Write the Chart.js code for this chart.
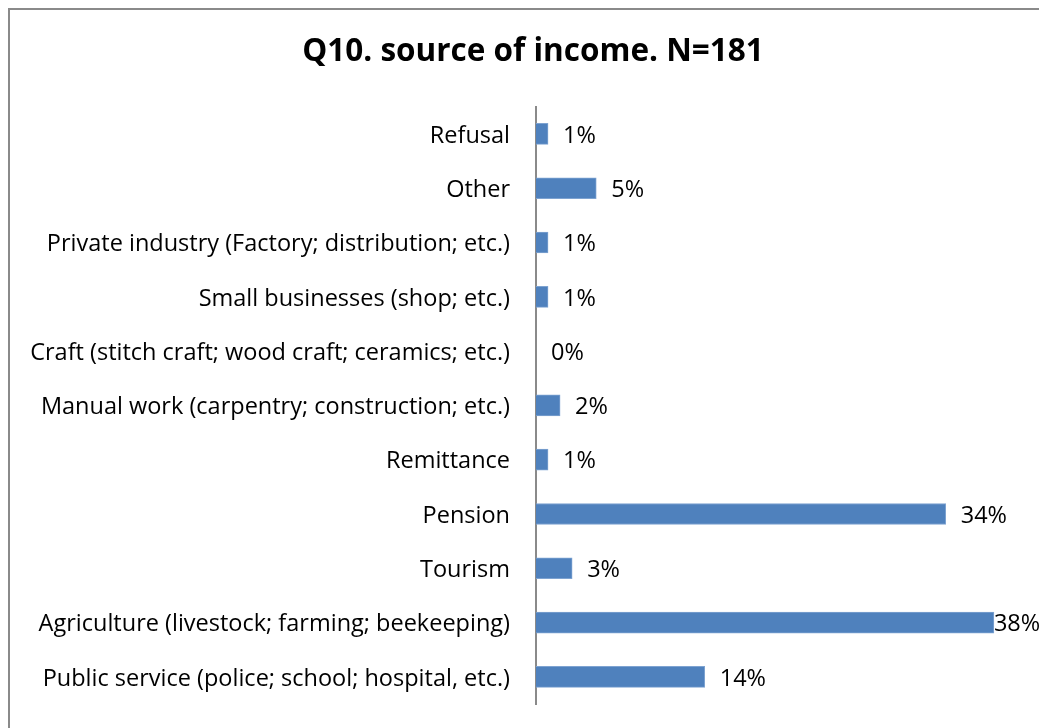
<!DOCTYPE html>
<html>
<head>
<meta charset="utf-8">
<script src="https://cdn.jsdelivr.net/npm/chart.js@4/dist/chart.umd.min.js"></script>
<style>
  html, body { margin: 0; padding: 0; background: #fff; overflow: hidden; }
  #wrap { position: relative; width: 1039px; height: 728px; }
  #frame { position: absolute; left: 8px; top: 8px; width: 1100px; height: 800px; border: 2px solid #8a8a8a; box-sizing: border-box; }
  canvas { position: absolute; left: 0; top: 0; }
</style>
</head>
<body>
<div id="wrap">
  <div id="frame"></div>
  <canvas id="income" width="1039" height="728"></canvas>
</div>
<script>
const categories = [
    "Refusal",
    "Other",
    "Private industry (Factory; distribution; etc.)",
    "Small businesses (shop; etc.)",
    "Craft (stitch craft; wood craft; ceramics; etc.)",
    "Manual work (carpentry; construction; etc.)",
    "Remittance",
    "Pension",
    "Tourism",
    "Agriculture (livestock; farming; beekeeping)",
    "Public service (police; school; hospital, etc.)"
]
const shares = [1, 5, 1, 1, 0, 2, 1, 34, 3, 38, 14]

const labelFont = { family: "'Open Sans', sans-serif", size: 23.5 }

// value labels to the right of each bar, kept inside the canvas
const valueLabels = {
    id: "valueLabels",
    afterLayout(chart) {
        // centre the title over the framed area rather than the canvas
        chart.titleBlock.left = 48
    },
    afterDatasetsDraw(chart) {
        const ctx = chart.ctx
        const meta = chart.getDatasetMeta(0)
        ctx.save()
        ctx.font = labelFont.size + "px " + labelFont.family
        ctx.fillStyle = "#000"
        ctx.textBaseline = "middle"
        meta.data.forEach((bar, i) => {
            const txt = shares[i] + "%"
            const w = ctx.measureText(txt).width
            let x = bar.x + 15
            if (x + w > chart.width - 2) x = Math.max(bar.x, chart.width - 2 - w)
            ctx.fillText(txt, x, bar.y + 2)
        })
        ctx.restore()
    }
}

const ctx = document.getElementById("income").getContext("2d")
new Chart(ctx, {
    type: "bar",
    data: {
        labels: categories,
        datasets: [
            {
                data: shares,
                backgroundColor: "#4f81bd",
                borderColor: "#7ea3d1",
                borderWidth: 1,
                barThickness: 21
            }
        ]
    },
    options: {
        indexAxis: "y",
        responsive: false,
        animation: false,
        layout: { padding: { left: 0, right: 21, bottom: 24 } },
        scales: {
            x: {
                display: false,
                min: 0,
                max: 40
            },
            y: {
                afterFit: scale => {
                    scale.width = 536
                    // labels may overhang the plot, don't reserve room for them
                    scale.paddingTop = 0
                    scale.paddingBottom = 0
                },
                grid: { display: false, drawTicks: false },
                border: { display: true, color: "#8a8a8a", width: 2 },
                ticks: { color: "#000", font: labelFont, padding: 26, labelOffset: 2 }
            }
        },
        plugins: {
            legend: { display: false },
            tooltip: { enabled: false },
            title: {
                display: true,
                text: "Q10. source of income. N=181",
                color: "#000",
                font: { family: "'Open Sans', sans-serif", size: 31.5, weight: "bold" },
                padding: { top: 33, bottom: 36 }
            }
        }
    },
    plugins: [valueLabels]
})
</script>
</body>
</html>
